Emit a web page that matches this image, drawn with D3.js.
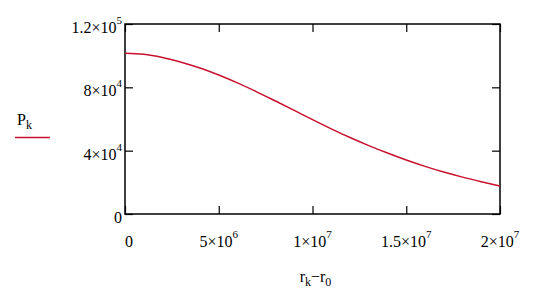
<!DOCTYPE html>
<html>
<head>
<meta charset="utf-8">
<script src="https://cdn.jsdelivr.net/npm/d3@7"></script>
<style>
  body { margin: 0; background: #fff; }
  text { font-family: "Liberation Serif", "Times New Roman", serif; fill: #000; }
</style>
</head>
<body>
<div class="chart"></div>
<script>
// r_k - r_0 (x) and P_k (y)
var rValues = [0, 1e6, 2e6, 3e6, 4e6, 5e6, 6e6, 7e6, 8e6, 9e6, 1e7,
  1.1e7, 1.2e7, 1.3e7, 1.4e7, 1.5e7, 1.6e7, 1.7e7, 1.8e7, 1.9e7, 2e7];
var pValues = [101500, 100900, 98900, 95900, 92200, 87800, 82800, 77300, 71500, 65600, 59600,
  53800, 48300, 43200, 38500, 34100, 30100, 26500, 23300, 20400, 17700];

var xTicks = [0, 5e6, 1e7, 1.5e7, 2e7];
var xTickBase = ["0", "5×10", "1×10", "1.5×10", "2×10"];
var xTickExp = ["", "6", "7", "7", "7"];

var yTicks = [0, 4e4, 8e4, 1.2e5];
var yTickBase = ["0", "4×10", "8×10", "1.2×10"];
var yTickExp = ["", "4", "4", "5"];

var svgWidth = 540;
var svgHeight = 299;

var margin = {
  top: 24,
  bottom: 85,
  right: 40,
  left: 125
};

var height = svgHeight - margin.top - margin.bottom;
var width = svgWidth - margin.left - margin.right;

var svg = d3.select(".chart")
  .append("svg")
  .attr("width", svgWidth)
  .attr("height", svgHeight);

var chartGroup = svg.append("g")
  .attr("transform", `translate(${margin.left}, ${margin.top})`);

var xScale = d3.scaleLinear()
  .domain([0, 2e7])
  .range([0, width]);

var yScale = d3.scaleLinear()
  .domain([0, 1.2e5])
  .range([height, 0]);

// axes on all four sides, ticks pointing inward, no labels
function styleAxis(g) {
  g.select(".domain").remove();
  g.selectAll(".tick line").attr("stroke", "#000").attr("stroke-width", 1.2);
  g.selectAll(".tick text").remove();
}

chartGroup.append("g")
  .attr("transform", `translate(0, ${height})`)
  .call(d3.axisBottom(xScale).tickValues(xTicks).tickSize(-8))
  .call(styleAxis);

chartGroup.append("g")
  .call(d3.axisTop(xScale).tickValues(xTicks).tickSize(-8))
  .call(styleAxis);

chartGroup.append("g")
  .call(d3.axisLeft(yScale).tickValues(yTicks).tickSize(-8))
  .call(styleAxis);

chartGroup.append("g")
  .attr("transform", `translate(${width}, 0)`)
  .call(d3.axisRight(yScale).tickValues(yTicks).tickSize(-8))
  .call(styleAxis);

// frame
chartGroup.append("rect")
  .attr("width", width)
  .attr("height", height)
  .attr("fill", "none")
  .attr("stroke", "#000")
  .attr("stroke-width", 1.5);

// the curve
var line = d3.line()
  .x((d, i) => xScale(rValues[i]))
  .y(d => yScale(d))
  .curve(d3.curveMonotoneX);

chartGroup.append("path")
  .datum(pValues)
  .attr("d", line)
  .attr("fill", "none")
  .attr("stroke", "#c8102e")
  .attr("stroke-width", 1.5);

// x tick labels
var xLab = chartGroup.selectAll(".xlab")
  .data(xTicks)
  .enter()
  .append("text")
  .attr("class", "xlab")
  .attr("x", d => xScale(d) + (d === 0 ? 4 : 0))
  .attr("y", height + 33)
  .attr("text-anchor", "middle")
  .attr("font-size", "16px");
xLab.append("tspan").text((d, i) => xTickBase[i]);
xLab.append("tspan")
  .attr("dy", -9)
  .attr("font-size", "11px")
  .text((d, i) => xTickExp[i]);

// y tick labels
var yLab = chartGroup.selectAll(".ylab")
  .data(yTicks)
  .enter()
  .append("text")
  .attr("class", "ylab")
  .attr("x", -3)
  .attr("y", d => yScale(d) + 9)
  .attr("text-anchor", "end")
  .attr("font-size", "16px");
yLab.append("tspan").text((d, i) => yTickBase[i]);
yLab.append("tspan")
  .attr("dy", -9)
  .attr("font-size", "11px")
  .text((d, i) => yTickExp[i]);

// x axis title r_k - r_0
var xTitle = chartGroup.append("text")
  .attr("x", width / 2 + 3)
  .attr("y", height + 68)
  .attr("text-anchor", "middle")
  .attr("font-size", "16px");
xTitle.append("tspan").text("r");
xTitle.append("tspan").attr("dy", 4).attr("font-size", "12px").text("k");
xTitle.append("tspan").attr("dy", -4).text("−r");
xTitle.append("tspan").attr("dy", 4).attr("font-size", "12px").text("0");

// legend: P_k with red line below
var yTitle = svg.append("text")
  .attr("x", 17)
  .attr("y", 125)
  .attr("font-size", "16px");
yTitle.append("tspan").text("P");
yTitle.append("tspan").attr("dy", 4).attr("font-size", "12px").text("k");

svg.append("line")
  .attr("x1", 15)
  .attr("x2", 50)
  .attr("y1", 137.5)
  .attr("y2", 137.5)
  .attr("stroke", "#c8102e")
  .attr("stroke-width", 1.5);
</script>
</body>
</html>
